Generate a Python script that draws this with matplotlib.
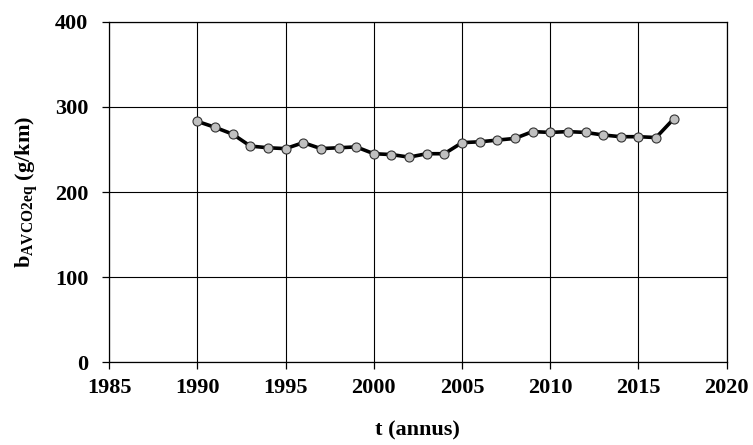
import numpy as np
import matplotlib
matplotlib.use('Agg')
import matplotlib.pyplot as plt

# data
years = list(range(1990, 2018))
b_avco2eq = [283, 276, 268, 254, 252, 251, 258, 251, 252, 253,
             245, 244, 241, 245, 245, 258, 259, 261, 263, 271,
             270, 271, 270, 267, 265, 265, 264, 286]

plt.rcParams['font.family'] = 'Liberation Serif'
plt.rcParams['font.weight'] = 'bold'
plt.rcParams['mathtext.fontset'] = 'custom'
plt.rcParams['mathtext.rm'] = 'Liberation Serif:bold'
plt.rcParams['mathtext.bf'] = 'Liberation Serif:bold'

fig = plt.figure(figsize=(7.53, 4.45), dpi=100)
# axes box: x 109..727 px, y 22..362 px
ax = fig.add_axes([0.145, 0.186, 0.82, 0.765])

ax.plot(years, b_avco2eq, color='black', lw=2.6, marker='o', ms=6.5,
        markerfacecolor='#c0c0c0', markeredgecolor='#333333', markeredgewidth=0.8,
        zorder=3)

ax.set_xlim(1985, 2020)
ax.set_ylim(0, 400)
ax.set_xticks(np.arange(1985, 2021, 5))
ax.set_yticks(np.arange(0, 401, 100))
ax.grid(True, color='black', lw=0.8)
ax.set_axisbelow(True)
for s in ax.spines.values():
    s.set_color('black')
    s.set_linewidth(0.9)
ax.tick_params(direction='out', length=5, width=0.9, labelsize=16)
ax.tick_params(axis='x', pad=6)
ax.tick_params(axis='y', pad=10)
for lbl in ax.get_xticklabels() + ax.get_yticklabels():
    lbl.set_fontweight('bold')

ax.set_xlabel('t (annus)', fontsize=16, fontweight='bold')
ax.set_ylabel(r'$\mathbf{b}_{\mathbf{AVCO2eq}}$ (g/km)', fontsize=16, fontweight='bold')
ax.xaxis.set_label_coords(0.5, -0.17)
ax.yaxis.set_label_coords(-0.11, 0.5)

fig.savefig('out.png', dpi=100)
